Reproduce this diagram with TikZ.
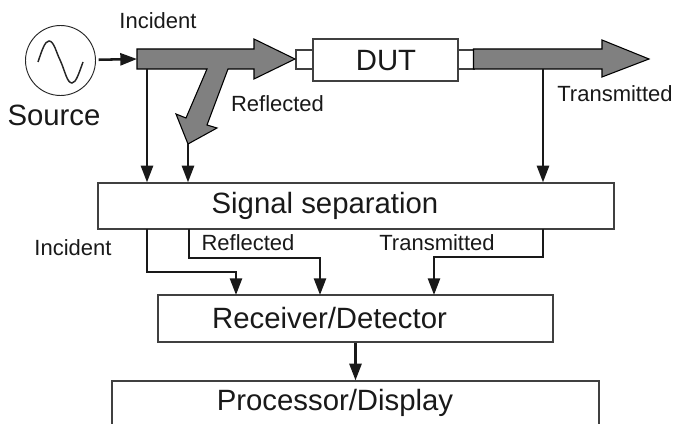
\documentclass[tikz,border=0pt]{standalone}
\usepackage{fontspec}
\setmainfont{Liberation Sans}
\usetikzlibrary{positioning}
\usetikzlibrary{arrows.meta}
\tikzset{
    blockbox/.style = {rectangle, draw=black!75, line width=0.9pt, fill=white, inner sep=0pt},
    bigtext/.style = {anchor=base, inner sep=0pt, text=black!90, font=\fontsize{22}{24}\selectfont},
    smalltext/.style = {anchor=base, inner sep=0pt, text=black!90, font=\fontsize{16.5}{19}\selectfont},
    sourcenode/.style = {circle, draw=black!85, line width=0.7pt, minimum size=52.5pt, inner sep=0pt},
    edgen/.style = {-{Triangle[length=12.5pt,width=9pt]},line width=1.9pt,black!90},
    bigarrow/.style = {draw=black, line width=0.8pt, fill=black!50, line join=miter},
}

\begin{document}
\begin{tikzpicture}[x=0.75pt,y=-0.75pt]
  \useasboundingbox (0,0) rectangle (675,424);
  % source
  \node[sourcenode] (source) at (60.5,60.5) {};
  \draw[line width=1.1pt,black!85] (38,62) .. controls (42,50) and (45,41) .. (49,41)
    .. controls (54,41) and (56,52) .. (60.5,61) .. controls (65,71) and (67,83) .. (72,83)
    .. controls (76,83) and (79,73) .. (83,62);
  % device
  \node[blockbox, minimum width=13.5pt, minimum height=14.25pt] (portl) at (305,59.5) {};
  \node[blockbox, minimum width=12.75pt, minimum height=14.25pt] (portr) at (466,59.5) {};
  \node[blockbox, minimum width=108.75pt, minimum height=31.5pt] (dut) at (385.5,60) {};
  \node[bigtext] (duttext) at (386,71) {DUT};
  % big arrows
  \draw[bigarrow] (137,49) -- (254,49) -- (254,39) -- (295,59) -- (254,79) -- (254,69)
    -- (228,69) -- (207,125) -- (217,128) -- (188,144) -- (176,114) -- (186,118) -- (207,69)
    -- (137,69) -- cycle;
  \draw[bigarrow] (473.5,49) -- (602,49) -- (602,40) -- (649,59) -- (602,77) -- (602,69)
    -- (473.5,69) -- cycle;
  \coordinate (intail) at (137,59);
  \coordinate (infoot) at (147,69);
  \coordinate (reftip) at (188,144);
  \coordinate (trfoot) at (543,69);
  % blocks
  \node[blockbox, minimum width=387pt, minimum height=34.5pt] (sigsep) at (356,206) {};
  \node[blockbox, minimum width=296.25pt, minimum height=35.25pt] (receiver) at (355.5,318.5) {};
  \node[blockbox, minimum width=365.25pt, minimum height=33pt] (processor) at (355.5,403) {};
  % connectors
  \draw[edgen, shorten <=2pt] (source) -- (intail);
  \draw[edgen] (infoot) -- (infoot |- sigsep.north);
  \draw[edgen] (reftip) -- (reftip |- sigsep.north);
  \draw[edgen] (trfoot) -- (trfoot |- sigsep.north);
  \draw[edgen] (147,229) |- (236,272) -- (236,295);
  \draw[edgen] (189,229) |- (320,258) -- (320,295);
  \draw[edgen] (543,229) |- (434,257) -- (434,295);
  \draw[edgen] (receiver.south) -- (processor.north);
  % labels
  \node[smalltext] (incidenta) at (158,29) {Incident};
  \node[bigtext] (sourcetext) at (54,126) {Source};
  \node[smalltext] (reflecteda) at (277.5,112) {Reflected};
  \node[smalltext] (transa) at (615,102) {Transmitted};
  \node[bigtext] (sigtext) at (325,214) {Signal separation};
  \node[smalltext] (incidentb) at (73,256) {Incident};
  \node[smalltext] (reflectedb) at (248,251) {Reflected};
  \node[smalltext] (transb) at (437,251) {Transmitted};
  \node[bigtext] (rectext) at (329.5,328) {Receiver/Detector};
  \node[bigtext] (proctext) at (335,410) {Processor/Display};
\end{tikzpicture}
\end{document}
